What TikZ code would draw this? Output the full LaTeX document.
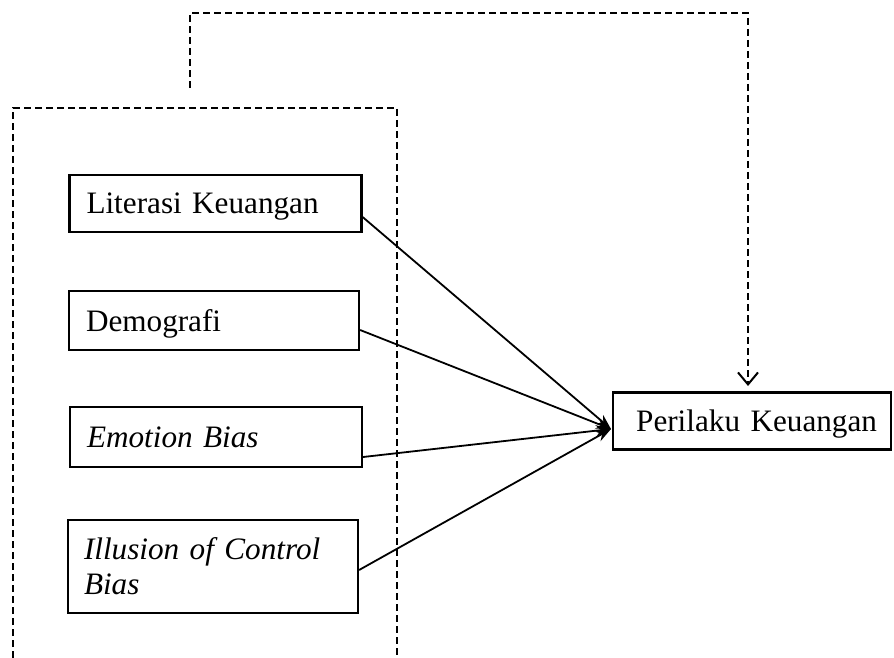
\documentclass[tikz,border=0pt]{standalone}
\usepackage{fontspec}
\setmainfont{Liberation Serif}
\usetikzlibrary{arrows.meta}
\begin{document}
\begin{tikzpicture}[x=1pt,y=-1pt,
  varbox/.style={draw, line width=2.2pt, align=left, inner xsep=17pt, inner ysep=0pt,
    font=\fontsize{31.2}{35}\selectfont},
  onel/.style={text depth=0pt},
  conn/.style={line width=1.8pt, -{Stealth[length=15pt,width=11pt]}},
  dash box/.style={line width=2.2pt, dash pattern=on 7pt off 4pt},
]
\useasboundingbox (0,0) rectangle (894,658);
\fill[white] (0,0) rectangle (894,658);
% dashed grouping frame (open at bottom)
\draw[dash box] (13,658) -- (13,108) -- (397,108) -- (397,658);
% boxes
\node[varbox, onel, minimum width=292pt, minimum height=57pt, text width=258pt] (lit) at (215.5,203.5) {Literasi Keuangan};
\node[varbox, onel, minimum width=290pt, minimum height=59pt, text width=256pt] (dem) at (214,320.5) {Demografi};
\node[varbox, onel, minimum width=292pt, minimum height=60pt, text width=258pt] (emo) at (216,437) {\itshape Emotion Bias};
\node[varbox, minimum width=290pt, minimum height=93pt, text width=258pt, inner xsep=16pt] (ill) at (213,566.5) {\itshape Illusion of Control\\\itshape Bias};
\node[varbox, onel, align=right, minimum width=278pt, minimum height=57pt, text width=250pt, inner xsep=14pt] (per) at (752,421) {Perilaku Keuangan};
% connectors
\coordinate (tip) at (611,429);
\draw[conn] ([yshift=-13.5pt]lit.east) -- (tip);
\draw[conn] ([yshift=-9.5pt]dem.east) -- (tip);
\draw[conn] ([yshift=-20pt]emo.east) -- (tip);
\draw[conn] ([yshift=-3.5pt]ill.east) -- (tip);
% dashed feedback arrow
\coordinate (fb) at (190,88);
\draw[dash box, -{Straight Barb[length=12pt,width=20pt,line width=2pt]}] (fb) -- (190,13) -- (748,13) -- (748,386);
\end{tikzpicture}
\end{document}
